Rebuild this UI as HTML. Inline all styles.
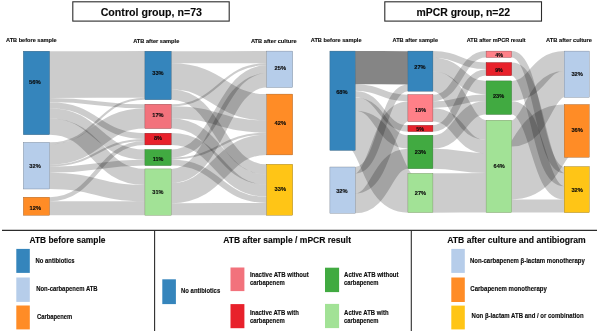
<!DOCTYPE html>
<html><head><meta charset="utf-8"><title>Sankey ATB</title>
<style>
html,body{margin:0;padding:0;background:#fff;}
body{width:597px;height:333px;overflow:hidden;}
svg{display:block;}
text{font-family:"Liberation Sans",sans-serif;font-weight:bold;fill:#0a0a0a;stroke:#0a0a0a;stroke-width:0.12px;}
</style></head>
<body>
<svg width="597" height="333" viewBox="0 0 597 333">
<defs><filter id="soft" x="-2%" y="-2%" width="104%" height="104%" color-interpolation-filters="sRGB"><feGaussianBlur stdDeviation="0.32"/></filter></defs>
<rect width="597" height="333" fill="#fff"/>
<g filter="url(#soft)">
<rect x="-5" y="-5" width="607" height="343" fill="#fff"/>
<g fill="none" stroke="#000" transform="scale(1.1,1)">
<path d="M45.091,74.62C88.409,74.62 88.409,74.44 131.727,74.44" stroke-opacity="0.2" stroke-width="46.66"/>
<path d="M45.091,100.08C88.409,100.08 88.409,106.23 131.727,106.23" stroke-opacity="0.2" stroke-width="4.07"/>
<path d="M45.091,105.17C88.409,105.17 88.409,136.12 131.727,136.12" stroke-opacity="0.2" stroke-width="5.98"/>
<path d="M45.091,113.32C88.409,113.32 88.409,154.53 131.727,154.53" stroke-opacity="0.2" stroke-width="10.12"/>
<path d="M45.091,126.55C88.409,126.55 88.409,176.97 131.727,176.97" stroke-opacity="0.2" stroke-width="16.22"/>
<path d="M45.091,143.32C88.409,143.32 88.409,98.69 131.727,98.69" stroke-opacity="0.2" stroke-width="2.03"/>
<path d="M45.091,154.48C88.409,154.48 88.409,118.43 131.727,118.43" stroke-opacity="0.2" stroke-width="20.32"/>
<path d="M45.091,165.65C88.409,165.65 88.409,140.03 131.727,140.03" stroke-opacity="0.2" stroke-width="1.99"/>
<path d="M45.091,169.71C88.409,169.71 88.409,162.58 131.727,162.58" stroke-opacity="0.2" stroke-width="6.06"/>
<path d="M45.091,180.88C88.409,180.88 88.409,193.11 131.727,193.11" stroke-opacity="0.2" stroke-width="16.19"/>
<path d="M45.091,199.21C88.409,199.21 88.409,142.95 131.727,142.95" stroke-opacity="0.2" stroke-width="3.96"/>
<path d="M45.091,208.26C88.409,208.26 88.409,208.24 131.727,208.24" stroke-opacity="0.2" stroke-width="14.10"/>
<path d="M155.636,57.26C199.091,57.26 199.091,57.17 242.545,57.17" stroke-opacity="0.2" stroke-width="12.13"/>
<path d="M155.636,76.46C199.091,76.46 199.091,107.27 242.545,107.27" stroke-opacity="0.2" stroke-width="26.31"/>
<path d="M155.636,94.65C199.091,94.65 199.091,169.39 242.545,169.39" stroke-opacity="0.2" stroke-width="10.14"/>
<path d="M155.636,105.22C199.091,105.22 199.091,64.24 242.545,64.24" stroke-opacity="0.2" stroke-width="2.03"/>
<path d="M155.636,112.33C199.091,112.33 199.091,126.53 242.545,126.53" stroke-opacity="0.2" stroke-width="12.18"/>
<path d="M155.636,123.52C199.091,123.52 199.091,179.57 242.545,179.57" stroke-opacity="0.2" stroke-width="10.17"/>
<path d="M155.636,139.05C199.091,139.05 199.091,190.77 242.545,190.77" stroke-opacity="0.2" stroke-width="11.96"/>
<path d="M155.636,153.53C199.091,153.53 199.091,69.30 242.545,69.30" stroke-opacity="0.2" stroke-width="8.07"/>
<path d="M155.636,158.56C199.091,158.56 199.091,133.62 242.545,133.62" stroke-opacity="0.2" stroke-width="2.02"/>
<path d="M155.636,162.58C199.091,162.58 199.091,199.93 242.545,199.93" stroke-opacity="0.2" stroke-width="6.07"/>
<path d="M155.636,175.96C199.091,175.96 199.091,80.42 242.545,80.42" stroke-opacity="0.2" stroke-width="14.14"/>
<path d="M155.636,193.11C199.091,193.11 199.091,144.77 242.545,144.77" stroke-opacity="0.2" stroke-width="20.22"/>
<path d="M155.636,209.25C199.091,209.25 199.091,209.09 242.545,209.09" stroke-opacity="0.2" stroke-width="12.16"/>
<path d="M322.909,67.65C346.864,67.65 346.864,67.81 370.818,67.81" stroke-opacity="0.48" stroke-width="33.26"/>
<path d="M322.909,87.51C346.864,87.51 346.864,97.97 370.818,97.97" stroke-opacity="0.2" stroke-width="6.69"/>
<path d="M322.909,94.13C346.864,94.13 346.864,128.45 370.818,128.45" stroke-opacity="0.2" stroke-width="6.46"/>
<path d="M322.909,104.06C346.864,104.06 346.864,141.90 370.818,141.90" stroke-opacity="0.2" stroke-width="13.32"/>
<path d="M322.909,130.54C346.864,130.54 346.864,192.95 370.818,192.95" stroke-opacity="0.2" stroke-width="39.51"/>
<path d="M322.909,170.30C346.864,170.30 346.864,87.86 370.818,87.86" stroke-opacity="0.2" stroke-width="6.64"/>
<path d="M322.909,183.50C346.864,183.50 346.864,111.47 370.818,111.47" stroke-opacity="0.2" stroke-width="20.02"/>
<path d="M322.909,203.30C346.864,203.30 346.864,158.65 370.818,158.65" stroke-opacity="0.2" stroke-width="19.95"/>
<path d="M393.545,54.44C417.727,54.44 417.727,65.80 441.909,65.80" stroke-opacity="0.2" stroke-width="6.64"/>
<path d="M393.545,64.47C417.727,64.47 417.727,87.62 441.909,87.62" stroke-opacity="0.2" stroke-width="13.40"/>
<path d="M393.545,81.18C417.727,81.18 417.727,130.10 441.909,130.10" stroke-opacity="0.2" stroke-width="19.92"/>
<path d="M393.545,97.97C417.727,97.97 417.727,54.30 441.909,54.30" stroke-opacity="0.2" stroke-width="6.57"/>
<path d="M393.545,104.72C417.727,104.72 417.727,97.70 441.909,97.70" stroke-opacity="0.2" stroke-width="6.73"/>
<path d="M393.545,114.85C417.727,114.85 417.727,146.60 441.909,146.60" stroke-opacity="0.2" stroke-width="13.35"/>
<path d="M393.545,128.45C417.727,128.45 417.727,72.40 441.909,72.40" stroke-opacity="0.2" stroke-width="6.45"/>
<path d="M393.545,141.90C417.727,141.90 417.727,107.78 441.909,107.78" stroke-opacity="0.2" stroke-width="13.42"/>
<path d="M393.545,158.65C417.727,158.65 417.727,163.10 441.909,163.10" stroke-opacity="0.2" stroke-width="19.95"/>
<path d="M393.545,192.95C417.727,192.95 417.727,192.80 441.909,192.80" stroke-opacity="0.2" stroke-width="39.45"/>
<path d="M465.182,54.30C489.045,54.30 489.045,169.89 512.909,169.89" stroke-opacity="0.2" stroke-width="6.49"/>
<path d="M465.182,69.10C489.045,69.10 489.045,179.74 512.909,179.74" stroke-opacity="0.2" stroke-width="13.17"/>
<path d="M465.182,90.98C489.045,90.98 489.045,61.00 512.909,61.00" stroke-opacity="0.2" stroke-width="19.98"/>
<path d="M465.182,107.78C489.045,107.78 489.045,192.89 512.909,192.89" stroke-opacity="0.2" stroke-width="13.29"/>
<path d="M465.182,133.40C489.045,133.40 489.045,84.10 512.909,84.10" stroke-opacity="0.2" stroke-width="26.40"/>
<path d="M465.182,173.00C489.045,173.00 489.045,130.90 512.909,130.90" stroke-opacity="0.2" stroke-width="52.80"/>
<path d="M465.182,206.00C489.045,206.00 489.045,206.03 512.909,206.03" stroke-opacity="0.2" stroke-width="13.17"/>
</g>
<rect x="23.3" y="51.2" width="26.30" height="83.50" fill="#3585bc" stroke="#274e69" stroke-width="0.35"/>
<rect x="23.3" y="142.3" width="26.30" height="46.70" fill="#b6cdea" stroke="#66717f" stroke-width="0.35"/>
<rect x="23.3" y="197.2" width="26.30" height="18.10" fill="#ff8c26" stroke="#895120" stroke-width="0.35"/>
<rect x="144.9" y="51.2" width="26.30" height="48.50" fill="#3585bc" stroke="#274e69" stroke-width="0.35"/>
<rect x="144.9" y="104.2" width="26.30" height="24.40" fill="#f2727c" stroke="#77393d" stroke-width="0.35"/>
<rect x="144.9" y="133.2" width="26.30" height="11.70" fill="#e8212b" stroke="#711015" stroke-width="0.35"/>
<rect x="144.9" y="149.5" width="26.30" height="16.10" fill="#41aa41" stroke="#2c602c" stroke-width="0.35"/>
<rect x="144.9" y="168.9" width="26.30" height="46.40" fill="#a2e296" stroke="#6c7c56" stroke-width="0.35"/>
<rect x="266.8" y="51.1" width="25.90" height="36.40" fill="#b6cdea" stroke="#66717f" stroke-width="0.35"/>
<rect x="266.8" y="94.1" width="25.90" height="60.80" fill="#ff8c26" stroke="#895120" stroke-width="0.35"/>
<rect x="266.8" y="164.3" width="25.90" height="50.90" fill="#ffc516" stroke="#7d600b" stroke-width="0.35"/>
<rect x="329.9" y="51.1" width="25.30" height="99.30" fill="#3585bc" stroke="#274e69" stroke-width="0.35"/>
<rect x="329.9" y="167.0" width="25.30" height="46.20" fill="#b6cdea" stroke="#66717f" stroke-width="0.35"/>
<rect x="407.9" y="51.1" width="25.00" height="40.10" fill="#3585bc" stroke="#274e69" stroke-width="0.35"/>
<rect x="407.9" y="94.6" width="25.00" height="27.00" fill="#ff8088" stroke="#77393d" stroke-width="0.35"/>
<rect x="407.9" y="125.3" width="25.00" height="6.30" fill="#e8212b" stroke="#711015" stroke-width="0.35"/>
<rect x="407.9" y="135.2" width="25.00" height="33.50" fill="#41aa41" stroke="#2c602c" stroke-width="0.35"/>
<rect x="407.9" y="173.3" width="25.00" height="39.30" fill="#a2e296" stroke="#6c7c56" stroke-width="0.35"/>
<rect x="486.1" y="51.1" width="25.60" height="6.40" fill="#ff8088" stroke="#77393d" stroke-width="0.35"/>
<rect x="486.1" y="62.5" width="25.60" height="13.20" fill="#e8212b" stroke="#711015" stroke-width="0.35"/>
<rect x="486.1" y="80.9" width="25.60" height="33.60" fill="#41aa41" stroke="#2c602c" stroke-width="0.35"/>
<rect x="486.1" y="120.2" width="25.60" height="92.40" fill="#a2e296" stroke="#6c7c56" stroke-width="0.35"/>
<rect x="564.2" y="51.1" width="25.10" height="46.20" fill="#b6cdea" stroke="#66717f" stroke-width="0.35"/>
<rect x="564.2" y="104.5" width="25.10" height="52.80" fill="#ff8c26" stroke="#895120" stroke-width="0.35"/>
<rect x="564.2" y="166.6" width="25.10" height="46.00" fill="#ffc516" stroke="#7d600b" stroke-width="0.35"/>
<text x="29.00" y="83.90" font-size="6.0" textLength="11.80" lengthAdjust="spacingAndGlyphs">56%</text>
<text x="29.30" y="168.10" font-size="6.0" textLength="11.40" lengthAdjust="spacingAndGlyphs">32%</text>
<text x="29.50" y="210.20" font-size="6.0" textLength="11.50" lengthAdjust="spacingAndGlyphs">12%</text>
<text x="152.30" y="74.50" font-size="6.0" textLength="11.30" lengthAdjust="spacingAndGlyphs">33%</text>
<text x="152.30" y="116.80" font-size="6.0" textLength="11.30" lengthAdjust="spacingAndGlyphs">17%</text>
<text x="154.00" y="140.40" font-size="6.0" textLength="8.00" lengthAdjust="spacingAndGlyphs">8%</text>
<text x="152.80" y="160.60" font-size="6.0" textLength="10.60" lengthAdjust="spacingAndGlyphs">11%</text>
<text x="152.30" y="194.20" font-size="6.0" textLength="11.10" lengthAdjust="spacingAndGlyphs">31%</text>
<text x="274.60" y="70.30" font-size="6.0" textLength="11.50" lengthAdjust="spacingAndGlyphs">25%</text>
<text x="274.60" y="124.90" font-size="6.0" textLength="11.50" lengthAdjust="spacingAndGlyphs">42%</text>
<text x="274.60" y="191.30" font-size="6.0" textLength="11.40" lengthAdjust="spacingAndGlyphs">33%</text>
<text x="336.20" y="93.60" font-size="6.0" textLength="11.40" lengthAdjust="spacingAndGlyphs">68%</text>
<text x="336.20" y="192.60" font-size="6.0" textLength="11.40" lengthAdjust="spacingAndGlyphs">32%</text>
<text x="414.30" y="69.10" font-size="6.0" textLength="11.30" lengthAdjust="spacingAndGlyphs">27%</text>
<text x="415.10" y="111.70" font-size="6.0" textLength="10.90" lengthAdjust="spacingAndGlyphs">18%</text>
<text x="416.30" y="130.60" font-size="6.0" textLength="7.70" lengthAdjust="spacingAndGlyphs">5%</text>
<text x="414.80" y="153.80" font-size="6.0" textLength="11.20" lengthAdjust="spacingAndGlyphs">23%</text>
<text x="414.80" y="195.00" font-size="6.0" textLength="11.20" lengthAdjust="spacingAndGlyphs">27%</text>
<text x="495.20" y="56.80" font-size="6.0" textLength="7.80" lengthAdjust="spacingAndGlyphs">4%</text>
<text x="495.20" y="71.90" font-size="6.0" textLength="7.60" lengthAdjust="spacingAndGlyphs">9%</text>
<text x="493.00" y="97.90" font-size="6.0" textLength="11.20" lengthAdjust="spacingAndGlyphs">23%</text>
<text x="493.60" y="167.50" font-size="6.0" textLength="11.20" lengthAdjust="spacingAndGlyphs">64%</text>
<text x="571.40" y="75.50" font-size="6.0" textLength="11.50" lengthAdjust="spacingAndGlyphs">32%</text>
<text x="571.40" y="131.50" font-size="6.0" textLength="11.50" lengthAdjust="spacingAndGlyphs">36%</text>
<text x="571.40" y="191.50" font-size="6.0" textLength="11.50" lengthAdjust="spacingAndGlyphs">32%</text>
<text x="6.00" y="42.40" font-size="6.0" textLength="50.70" lengthAdjust="spacingAndGlyphs">ATB before sample</text>
<text x="133.20" y="42.50" font-size="6.0" textLength="46.10" lengthAdjust="spacingAndGlyphs">ATB after sample</text>
<text x="250.90" y="42.50" font-size="6.0" textLength="45.80" lengthAdjust="spacingAndGlyphs">ATB after culture</text>
<text x="310.80" y="42.10" font-size="6.0" textLength="50.70" lengthAdjust="spacingAndGlyphs">ATB before sample</text>
<text x="392.60" y="42.10" font-size="6.0" textLength="45.40" lengthAdjust="spacingAndGlyphs">ATB after sample</text>
<text x="466.80" y="42.10" font-size="6.0" textLength="58.90" lengthAdjust="spacingAndGlyphs">ATB after mPCR result</text>
<text x="546.10" y="42.10" font-size="6.0" textLength="45.90" lengthAdjust="spacingAndGlyphs">ATB after culture</text>
<rect x="72.8" y="1.8" width="156.4" height="19.3" fill="#fff" stroke="#2c2c2c" stroke-width="1.1"/>
<rect x="384.8" y="1.8" width="156.7" height="19.3" fill="#fff" stroke="#2c2c2c" stroke-width="1.1"/>
<text x="100.70" y="15.80" font-size="10.3" textLength="101.30" lengthAdjust="spacingAndGlyphs">Control group, n=73</text>
<text x="416.50" y="15.80" font-size="10.3" textLength="93.50" lengthAdjust="spacingAndGlyphs">mPCR group, n=22</text>
<line x1="2" y1="230.4" x2="597" y2="230.4" stroke="#2c2c2c" stroke-width="1.1"/>
<line x1="154.6" y1="230.4" x2="154.6" y2="331" stroke="#2c2c2c" stroke-width="1.1"/>
<line x1="411.3" y1="230.4" x2="411.3" y2="331" stroke="#2c2c2c" stroke-width="1.1"/>
<text x="29.50" y="243.40" font-size="8.6" textLength="75.90" lengthAdjust="spacingAndGlyphs">ATB before sample</text>
<rect x="16.3" y="248.9" width="13.50" height="24.00" fill="#3585bc"/>
<rect x="16.3" y="277.5" width="13.50" height="24.40" fill="#b6cdea"/>
<rect x="16.3" y="305.5" width="13.50" height="23.90" fill="#ff8c26"/>
<text x="35.60" y="263.30" font-size="6.4" textLength="38.90" lengthAdjust="spacingAndGlyphs">No antibiotics</text>
<text x="36.20" y="291.10" font-size="6.4" textLength="61.40" lengthAdjust="spacingAndGlyphs">Non-carbapenem ATB</text>
<text x="37.00" y="318.70" font-size="6.4" textLength="35.30" lengthAdjust="spacingAndGlyphs">Carbapenem</text>
<text x="223.20" y="243.10" font-size="8.6" textLength="127.80" lengthAdjust="spacingAndGlyphs">ATB after sample / mPCR result</text>
<rect x="162.3" y="279.3" width="13.60" height="24.80" fill="#3585bc"/>
<text x="181.10" y="293.30" font-size="6.4" textLength="39.10" lengthAdjust="spacingAndGlyphs">No antibiotics</text>
<rect x="230.5" y="267.5" width="13.90" height="23.60" fill="#f2727c"/>
<rect x="230.5" y="304.1" width="13.90" height="24.10" fill="#e8212b"/>
<text x="249.90" y="277.00" font-size="6.4" textLength="58.80" lengthAdjust="spacingAndGlyphs">Inactive ATB without</text>
<text x="249.90" y="284.80" font-size="6.4" textLength="34.90" lengthAdjust="spacingAndGlyphs">carbapenem</text>
<text x="249.90" y="315.10" font-size="6.4" textLength="48.90" lengthAdjust="spacingAndGlyphs">Inactive ATB with</text>
<text x="249.90" y="322.90" font-size="6.4" textLength="34.90" lengthAdjust="spacingAndGlyphs">carbapenem</text>
<rect x="325.0" y="267.7" width="14.10" height="24.40" fill="#41aa41"/>
<rect x="325.0" y="303.9" width="14.10" height="24.20" fill="#a2e296"/>
<text x="344.10" y="277.00" font-size="6.4" textLength="54.40" lengthAdjust="spacingAndGlyphs">Active ATB without</text>
<text x="344.10" y="284.80" font-size="6.4" textLength="34.40" lengthAdjust="spacingAndGlyphs">carbapenem</text>
<text x="344.10" y="315.10" font-size="6.4" textLength="44.50" lengthAdjust="spacingAndGlyphs">Active ATB with</text>
<text x="344.10" y="322.90" font-size="6.4" textLength="34.40" lengthAdjust="spacingAndGlyphs">carbapenem</text>
<text x="447.30" y="243.10" font-size="8.6" textLength="138.40" lengthAdjust="spacingAndGlyphs">ATB after culture and antibiogram</text>
<rect x="451.3" y="248.9" width="13.50" height="24.00" fill="#b6cdea"/>
<rect x="451.3" y="277.5" width="13.50" height="24.50" fill="#ff8c26"/>
<rect x="451.3" y="305.6" width="13.50" height="23.80" fill="#ffc516"/>
<text x="469.90" y="263.30" font-size="6.4" textLength="114.90" lengthAdjust="spacingAndGlyphs">Non-carbapenem β-lactam monotherapy</text>
<text x="470.30" y="290.60" font-size="6.4" textLength="76.50" lengthAdjust="spacingAndGlyphs">Carbapenem monotherapy</text>
<text x="471.60" y="318.30" font-size="6.4" textLength="112.10" lengthAdjust="spacingAndGlyphs">Non β-lactam ATB and / or combination</text>
</g>
</svg>
</body></html>
